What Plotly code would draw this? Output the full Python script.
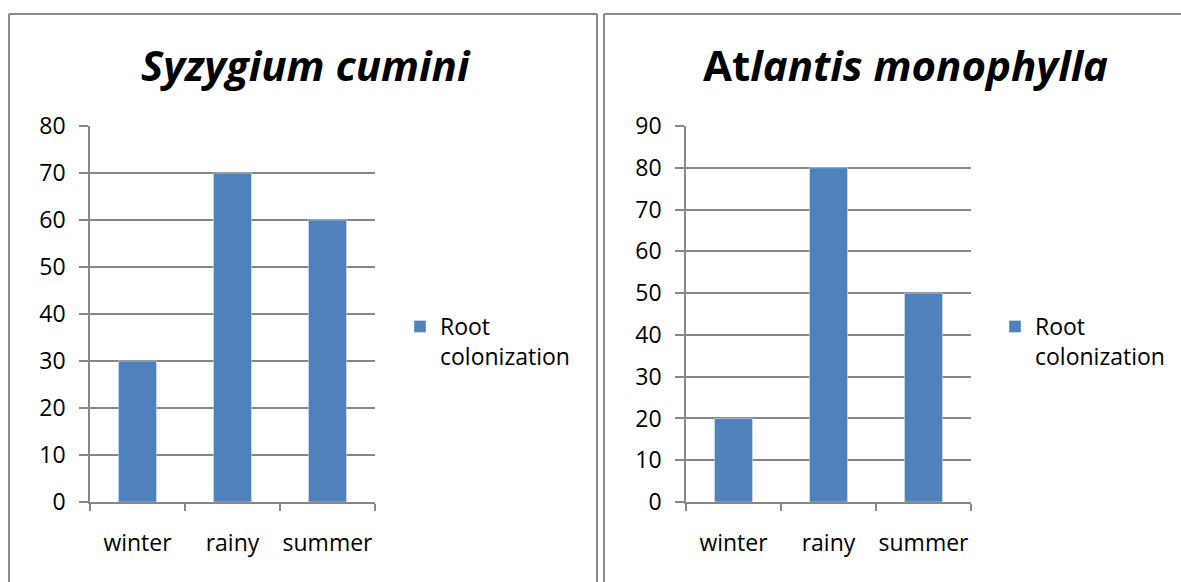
import plotly.graph_objects as go

categories = ["winter", "rainy", "summer"]
syzygium_values = [30, 70, 60]
atlantis_values = [20, 80, 50]
series_name = "Root<br>colonization"
left_title = "<b><i>Syzygium cumini</i></b>"
right_title = "<b>At<i>lantis monophylla</i></b>"

W, H = 1181, 582
BAR = "#4F81BD"
GRID = "#878787"
BORDER = "#8a8a8a"
FONT = "Open Sans"
FS = 23

def px(x):
    return x / W

def py(y):
    return 1 - y / H

fig = go.Figure()
fig.add_trace(go.Bar(x=categories, y=syzygium_values, name=series_name, marker_color=BAR,
                     width=0.4, xaxis="x", yaxis="y", legend="legend"))
fig.add_trace(go.Bar(x=categories, y=atlantis_values, name=series_name, marker_color=BAR,
                     width=0.4, xaxis="x2", yaxis="y2", legend="legend2"))

def xaxis(domain, anchor):
    return dict(domain=domain, anchor=anchor, type="category", range=[-0.5, 2.5],
                showline=True, linecolor=GRID, linewidth=1.5,
                ticks="outside", tickson="boundaries", ticklen=7, tickcolor=GRID, tickwidth=1.5,
                showgrid=False, tickfont=dict(family=FONT, size=FS, color="#000"),
                tickangle=0, automargin=False,
                ticklabelstandoff=20, fixedrange=True)

def yaxis(domain, anchor, top):
    return dict(domain=domain, anchor=anchor, range=[0, top], dtick=10,
                showline=True, linecolor=GRID, linewidth=1.5,
                ticks="outside", ticklen=9, tickcolor=GRID, tickwidth=1.5,
                showgrid=True, gridcolor=GRID, gridwidth=1.5, zeroline=False,
                tickfont=dict(family=FONT, size=FS, color="#000"),
                automargin=False,
                ticklabelstandoff=9, fixedrange=True)

ydom = [py(502), py(126)]
layout = dict(
    width=W, height=H, margin=dict(l=0, r=0, t=0, b=0, autoexpand=False),
    paper_bgcolor="white", plot_bgcolor="white",
    bargap=0.6, showlegend=True,
    xaxis=xaxis([px(90), px(375)], "y"),
    yaxis=yaxis(ydom, "x", 80),
    xaxis2=xaxis([px(686), px(971)], "y2"),
    yaxis2=yaxis(ydom, "x2", 90),
    legend=dict(x=px(400), y=py(305), xanchor="left", yanchor="top", valign="top",
                font=dict(family=FONT, size=FS, color="#000"), bgcolor="rgba(0,0,0,0)",
                itemclick=False, itemdoubleclick=False),
    legend2=dict(x=px(995), y=py(305), xanchor="left", yanchor="top", valign="top",
                 font=dict(family=FONT, size=FS, color="#000"), bgcolor="rgba(0,0,0,0)",
                 itemclick=False, itemdoubleclick=False),
    annotations=[
        dict(text=left_title, x=px(306), y=py(64), xref="paper", yref="paper",
             showarrow=False, xanchor="center", yanchor="middle",
             font=dict(family=FONT, size=42, color="#000")),
        dict(text=right_title, x=px(905), y=py(64), xref="paper", yref="paper",
             showarrow=False, xanchor="center", yanchor="middle",
             font=dict(family=FONT, size=42, color="#000")),
    ],
    shapes=[
        dict(type="line", xref="paper", yref="paper", x0=px(9), x1=px(9), y0=py(14), y1=py(600),
             line=dict(color=BORDER, width=2)),
        dict(type="line", xref="paper", yref="paper", x0=px(9), x1=px(597), y0=py(14), y1=py(14),
             line=dict(color=BORDER, width=2)),
        dict(type="line", xref="paper", yref="paper", x0=px(597), x1=px(597), y0=py(14), y1=py(600),
             line=dict(color=BORDER, width=2)),
        dict(type="line", xref="paper", yref="paper", x0=px(604), x1=px(604), y0=py(14), y1=py(600),
             line=dict(color=BORDER, width=2)),
        dict(type="line", xref="paper", yref="paper", x0=px(604), x1=px(1200), y0=py(14), y1=py(14),
             line=dict(color=BORDER, width=2)),
    ],
)
fig.update_layout(**layout)
fig.write_html("out.html", config={"displayModeBar": False},
               post_script="document.body.style.margin='0';document.body.style.overflow='hidden';")
